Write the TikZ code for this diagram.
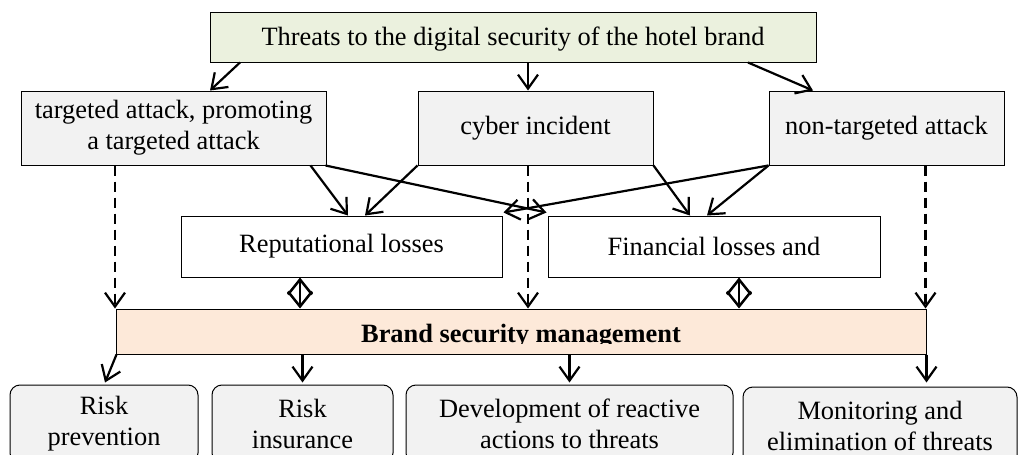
\documentclass[tikz,border=0pt]{standalone}
\usepackage{fontspec}
\setmainfont{Liberation Serif}
\usetikzlibrary{arrows.meta,calc}
\definecolor{headfill}{HTML}{EBF1DE}
\definecolor{greyfill}{HTML}{F2F2F2}
\definecolor{mgmtfill}{HTML}{FDE9D9}
\begin{document}
\begin{tikzpicture}[
  x=0.5pt, y=-0.5pt,
  font=\fontsize{13.2}{15.5}\selectfont,
  box/.style={draw, line width=0.5pt, inner sep=0pt, align=center},
  threat/.style={box, fill=greyfill, minimum height=37pt},
  loss/.style={box, fill=white, minimum height=30.5pt},
  action/.style={box, fill=greyfill, rounded corners=5pt, minimum height=39pt},
  arr/.style={line width=1.1pt, -{Straight Barb[length=7pt,width=10pt]}},
  darr/.style={arr, dash pattern=on 5pt off 3pt},
  both/.style={line width=1.25pt, {Straight Barb[length=7.5pt,width=12pt]}-{Straight Barb[length=7.5pt,width=12pt]}}
]
\useasboundingbox (0,0) rectangle (1018,455);
\clip (0,0) rectangle (1018,455);

% source of threats
\node[box, fill=headfill, minimum width=303pt, minimum height=25pt] (head) at (513,37) {};
\node[anchor=base, inner sep=0pt] (headtext) at (513,46)
  {Threats to the digital security of the hotel brand};

% kinds of threat
\node[threat, minimum width=152.5pt] (targ) at (173.5,128) {targeted attack, promoting\\a targeted attack};
\node[threat, minimum width=117.5pt] (cyber) at (535.5,128) {cyber incident};
\node[threat, minimum width=117.5pt] (nontarg) at (886.5,128) {non-targeted attack};

% losses
\node[loss, minimum width=160.5pt] (rep) at (341.5,246.5) {Reputational losses};
\node[loss, minimum width=166pt] (fin) at (714,246.5) {Financial losses and};

% management bar
\node[box, fill=mgmtfill, minimum width=405pt, minimum height=22.5pt] (mgmt) at (521,331.5) {};
\begin{scope}
  \clip (mgmt.north west) rectangle ($(mgmt.south east)+(0,-11)$);
  \node[anchor=base, inner sep=0pt, font=\fontsize{13.2}{15.5}\selectfont\bfseries] (mgmttext) at (521,342)
    {Brand security management};
\end{scope}

% measures
\node[action, minimum width=94pt] (prev) at (104,424) {Risk\\prevention};
\node[action, minimum width=90.5pt] (insur) at (302.5,424) {Risk\\insurance};
\node[action, minimum width=163.5pt] (react) at (569.5,424) {Development of reactive\\actions to threats};
\node[action, minimum width=137pt] (monit) at (880,426) {Monitoring and\\elimination of threats};

% head -> threats
\draw[arr] ($(head.south)+(-273,0)$) -- ($(targ.north)+(36.5,0)$);
\draw[arr] ($(head.south)+(15,0)$) -- ($(cyber.north)+(-7.5,0)$);
\draw[arr] ($(head.south)+(235,0)$) -- ($(nontarg.north)+(-73.5,0)$);

% threats -> losses
\draw[arr] ($(targ.south east)+(-16,0)$) -- ($(rep.north)+(6.5,0)$);
\draw[arr] ($(targ.south east)+(-1,0)$) -- ($(fin.north west)+(-1,-3)$);
\draw[arr] (cyber.south west) -- ($(rep.north)+(23.5,0)$);
\draw[arr] (cyber.south east) -- ($(fin.north)+(-24,0)$);
\draw[arr] (nontarg.south west) -- ($(fin.north)+(-7,0)$);
\draw[arr] (nontarg.south west) -- ($(rep.north east)+(1,-3)$);

% threats -> management (dashed)
\coordinate (d1) at ($(targ.south)+(-58.5,0)$);
\coordinate (d2) at ($(cyber.south)+(-7.5,0)$);
\coordinate (d3) at ($(nontarg.south)+(39,0)$);
\draw[darr] (d1) -- (d1 |- mgmt.north);
\draw[darr] (d2) -- (d2 |- mgmt.north);
\draw[darr] (d3) -- (d3 |- mgmt.north);

% losses <-> management
\coordinate (l1) at ($(rep.south)+(-41.5,0)$);
\coordinate (l2) at ($(fin.south)+(25,0)$);
\draw[both] (l1) -- (l1 |- mgmt.north);
\draw[both] (l2) -- (l2 |- mgmt.north);

% management -> measures
\draw[arr] ($(mgmt.south west)+(1,0)$) -- ($(prev.north)+(1,-2)$);
\draw[arr] (insur.north |- mgmt.south) -- ($(insur.north)+(0,-2)$);
\draw[arr] (react.north |- mgmt.south) -- ($(react.north)+(0,-2)$);
\draw[arr] (mgmt.south east) -- ($(mgmt.south east |- monit.north)+(0,-4)$);
\end{tikzpicture}
\end{document}
